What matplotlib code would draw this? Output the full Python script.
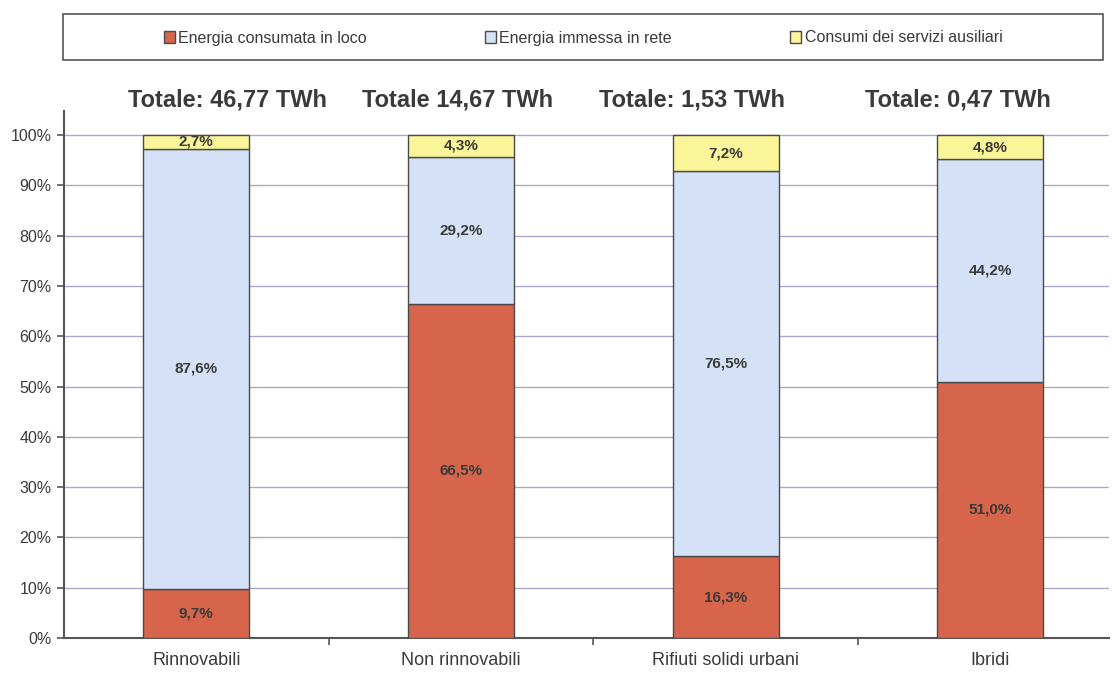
import numpy as np
import matplotlib
matplotlib.use("Agg")
import matplotlib.pyplot as plt
from matplotlib.patches import Rectangle
from matplotlib.ticker import PercentFormatter

categories = ['Rinnovabili', 'Non rinnovabili', 'Rifiuti solidi urbani', 'Ibridi']
totals = ['Totale: 46,77 TWh', 'Totale 14,67 TWh', 'Totale: 1,53 TWh', 'Totale: 0,47 TWh']
series_names = ['Energia consumata in loco', 'Energia immessa in rete',
                'Consumi dei servizi ausiliari']
consumata = [9.7, 66.5, 16.3, 51.0]
immessa = [87.6, 29.2, 76.5, 44.2]
ausiliari = [2.7, 4.3, 7.2, 4.8]

colors = ['#d6654b', '#d4e1f6', '#fbf59a']
text_col = '#3a3a3a'

plt.rcParams['font.family'] = ['Liberation Sans', 'DejaVu Sans']

fig = plt.figure(figsize=(11.12, 6.74), dpi=100)
ax = fig.add_axes([0.0576, 0.0534, 0.94, 0.782])

x = np.arange(len(categories))
bottom = np.zeros(len(categories))
handles = []
for vals, col, name in zip([consumata, immessa, ausiliari], colors, series_names):
    v = np.array(vals) / 100.0
    bars = ax.bar(x, v, width=0.4, bottom=bottom, color=col, edgecolor='#4a4a4a',
                  linewidth=1.0, label=name, zorder=3)
    handles.append(bars)
    for xi, b, h, val in zip(x, bottom, v, vals):
        ax.text(xi, b + h / 2, ('%.1f%%' % val).replace('.', ','), ha='center',
                va='center', fontsize=11, fontweight='bold', color=text_col, zorder=4)
    bottom += v

ax.set_xlim(-0.5, 3.45)
ax.set_ylim(0, 1.048)
ax.set_yticks(np.arange(0, 1.01, 0.1))
ax.yaxis.set_major_formatter(PercentFormatter(1.0, decimals=0))
ax.grid(axis='y', color='#a9a9cf', linewidth=1.0, zorder=0)
ax.set_xticks(x)
ax.set_xticklabels(categories, fontsize=13, color=text_col)
ax.set_xticks(np.arange(0.5, 3.0, 1.0), minor=True)
ax.tick_params(axis='x', which='major', length=0, pad=10)
ax.tick_params(axis='x', which='minor', length=5, width=1.2, color='#555555')
ax.tick_params(axis='y', length=5, width=1.2, color='#555555', labelsize=11.5,
               labelcolor=text_col, pad=4)
for s in ['top', 'right']:
    ax.spines[s].set_visible(False)
ax.spines['left'].set_color('#555555')
ax.spines['left'].set_linewidth(1.5)
ax.spines['bottom'].set_color('#555555')
ax.spines['bottom'].set_linewidth(1.5)

# totals above each column
total_x = [228, 458, 692, 958]
for tx, t in zip(total_x, totals):
    fig.text(tx / 1112, 1 - 100 / 674, t, ha='center', va='center', fontsize=17,
             fontweight='bold', color=text_col)

# legend box across the top
fig.patches.append(Rectangle((63 / 1112, 1 - 60 / 674), 1040 / 1112, 46 / 674,
                             transform=fig.transFigure, fill=False,
                             edgecolor='#555555', linewidth=1.2))
leg = fig.legend(handles=handles, loc='center', ncol=3,
                 bbox_to_anchor=(583 / 1112, 1 - 38 / 674),
                 frameon=False, fontsize=11.5, handlelength=0.7,
                 handleheight=0.7, handletextpad=0.2, columnspacing=7.4)
for t in leg.get_texts():
    t.set_color(text_col)

fig.savefig('out.png', dpi=100)
